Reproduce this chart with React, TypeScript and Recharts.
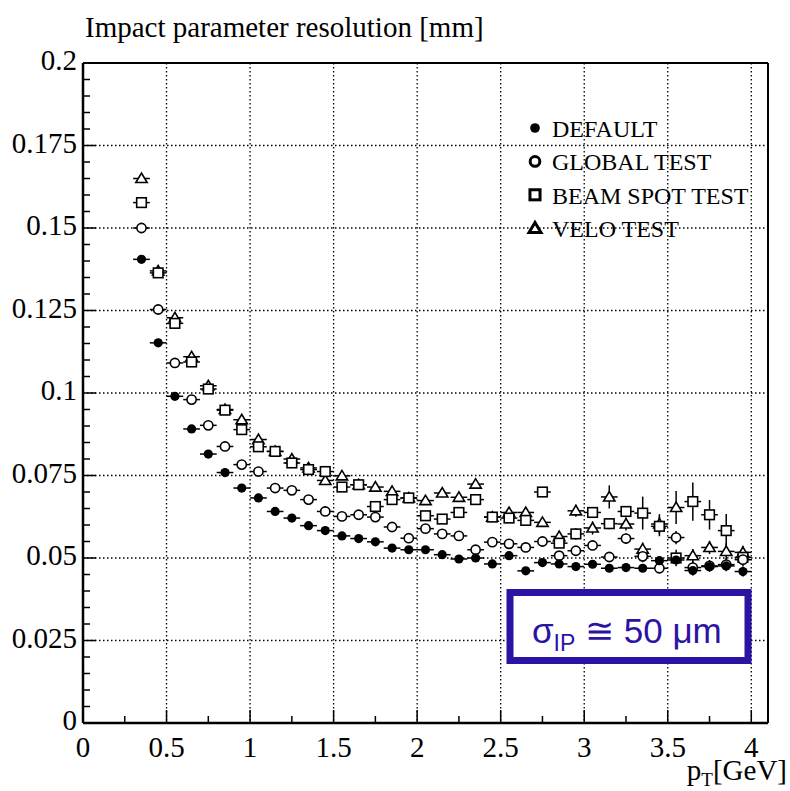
import React from "react";
import {
  ScatterChart,
  Scatter,
  XAxis,
  YAxis,
  CartesianGrid,
  ErrorBar,
  ReferenceLine,
} from "recharts";

// pT bin centres [GeV], bin half-width 0.05
const pt = [
  0.35, 0.45, 0.55, 0.65, 0.75, 0.85, 0.95, 1.05, 1.15, 1.25, 1.35, 1.45, 1.55,
  1.65, 1.75, 1.85, 1.95, 2.05, 2.15, 2.25, 2.35, 2.45, 2.55, 2.65, 2.75, 2.85,
  2.95, 3.05, 3.15, 3.25, 3.35, 3.45, 3.55, 3.65, 3.75, 3.85, 3.95,
];
const binHalf = 0.05;

const defaultRes = [
  0.1405, 0.1152, 0.099, 0.0891, 0.0815, 0.0759, 0.0712, 0.0682, 0.0641, 0.0621,
  0.0598, 0.0583, 0.0567, 0.0559, 0.0549, 0.053, 0.0525, 0.0525, 0.051, 0.0497,
  0.05, 0.0482, 0.0507, 0.0461, 0.0486, 0.0482, 0.0474, 0.0481, 0.0469, 0.0471,
  0.0469, 0.0492, 0.0494, 0.0462, 0.0474, 0.0476, 0.0459,
];
const defaultErr = [
  0.0003, 0.0003, 0.0003, 0.0003, 0.0003, 0.0003, 0.0003, 0.0003, 0.0003, 0.0003,
  0.0003, 0.0003, 0.0003, 0.0003, 0.0003, 0.0003, 0.0003, 0.0003, 0.0003, 0.0003,
  0.0004, 0.0004, 0.0004, 0.0004, 0.0004, 0.0004, 0.0005, 0.0006, 0.0007, 0.0008,
  0.0009, 0.001, 0.0012, 0.0015, 0.0012, 0.0013, 0.0015,
];

const globalRes = [
  0.15, 0.1253, 0.1091, 0.098, 0.0902, 0.0838, 0.0783, 0.0762, 0.0712, 0.0705,
  0.0677, 0.0641, 0.0626, 0.0631, 0.0624, 0.0594, 0.056, 0.0589, 0.0573, 0.0567,
  0.0525, 0.0548, 0.0543, 0.0532, 0.055, 0.0507, 0.0522, 0.0538, 0.0503, 0.0559,
  0.0505, 0.0469, 0.0562, 0.0471, 0.0476, 0.048, 0.0495,
];
const globalErr = [
  0.0004, 0.0004, 0.0004, 0.0004, 0.0004, 0.0004, 0.0004, 0.0004, 0.0004, 0.0004,
  0.0004, 0.0004, 0.0004, 0.0004, 0.0004, 0.0004, 0.0004, 0.0004, 0.0004, 0.0004,
  0.0004, 0.0004, 0.0006, 0.0007, 0.0008, 0.001, 0.0012, 0.0012, 0.0013, 0.0015,
  0.0018, 0.0015, 0.002, 0.002, 0.0018, 0.002, 0.002,
];

const beamRes = [
  0.1577, 0.1364, 0.1211, 0.1094, 0.1012, 0.0948, 0.0889, 0.0837, 0.0823, 0.0788,
  0.0768, 0.0762, 0.0715, 0.0722, 0.0656, 0.0677, 0.0682, 0.0628, 0.0618, 0.0638,
  0.0677, 0.0624, 0.0621, 0.0614, 0.07, 0.0545, 0.0573, 0.0638, 0.0604, 0.0641,
  0.0636, 0.0596, 0.05, 0.0671, 0.0631, 0.0583, 0.0502,
];
const beamErr = [
  0.0004, 0.0004, 0.0004, 0.0004, 0.0004, 0.0004, 0.0004, 0.0004, 0.0004, 0.0004,
  0.0004, 0.0004, 0.0004, 0.0004, 0.0004, 0.0004, 0.0004, 0.0006, 0.0006, 0.0008,
  0.0015, 0.001, 0.0012, 0.0012, 0.0015, 0.0015, 0.0018, 0.0013, 0.0017, 0.0013,
  0.005, 0.003, 0.0025, 0.0058, 0.0045, 0.005, 0.002,
];

const veloRes = [
  0.165, 0.137, 0.1228, 0.111, 0.1022, 0.095, 0.0919, 0.0859, 0.0823, 0.08,
  0.0773, 0.0735, 0.0749, 0.0722, 0.0715, 0.0702, 0.0682, 0.0674, 0.0697, 0.0684,
  0.0724, 0.0624, 0.0638, 0.0638, 0.0608, 0.0565, 0.0643, 0.0591, 0.0685, 0.0603,
  0.0527, 0.0603, 0.0653, 0.0507, 0.0532, 0.052, 0.0517,
];
const veloErr = [
  0.0004, 0.0004, 0.0004, 0.0004, 0.0004, 0.0004, 0.0004, 0.0004, 0.0004, 0.0004,
  0.0004, 0.0004, 0.0004, 0.0004, 0.0004, 0.0004, 0.0004, 0.0006, 0.0006, 0.0008,
  0.0012, 0.001, 0.001, 0.0012, 0.0012, 0.0015, 0.0018, 0.002, 0.0035, 0.002,
  0.002, 0.003, 0.005, 0.002, 0.002, 0.0025, 0.002,
];

const xMajor = [0, 0.5, 1, 1.5, 2, 2.5, 3, 3.5, 4];
const xLabels = ["0", "0.5", "1", "1.5", "2", "2.5", "3", "3.5", "4"];
const yMajor = [0, 0.025, 0.05, 0.075, 0.1, 0.125, 0.15, 0.175, 0.2];
const yLabels = ["0", "0.025", "0.05", "0.075", "0.1", "0.125", "0.15", "0.175", "0.2"];

const xTicks = Array.from({ length: 17 }, (_, i) => i * 0.25);
const yTicks = Array.from({ length: 41 }, (_, i) => Math.round(i * 5) / 1000);

const SERIF = '"Liberation Serif", "Times New Roman", serif';
const SANS = '"Liberation Sans", Arial, sans-serif';
const BLUE = "#2b14a3";

const toData = (vals: number[], errs: number[]) =>
  pt.map((x, i) => ({ x, y: vals[i], ex: binHalf, ey: errs[i] }));

type Kind = "dot" | "circle" | "square" | "triangle";

const series: { name: string; kind: Kind; data: any[] }[] = [
  { name: "VELO TEST", kind: "triangle", data: toData(veloRes, veloErr) },
  { name: "BEAM SPOT TEST", kind: "square", data: toData(beamRes, beamErr) },
  { name: "GLOBAL TEST", kind: "circle", data: toData(globalRes, globalErr) },
  { name: "DEFAULT", kind: "dot", data: toData(defaultRes, defaultErr) },
];
const legendOrder = ["DEFAULT", "GLOBAL TEST", "BEAM SPOT TEST", "VELO TEST"];

function Marker({ kind, cx, cy, s = 1, sw = 1.6 }: any) {
  if (cx == null || cy == null) return null;
  if (kind === "dot") return <circle cx={cx} cy={cy} r={4.6 * s} fill="#000" />;
  if (kind === "circle")
    return <circle cx={cx} cy={cy} r={4.6 * s} fill="#fff" stroke="#000" strokeWidth={sw} />;
  if (kind === "square")
    return (
      <rect x={cx - 4.8 * s} y={cy - 4.8 * s} width={9.6 * s} height={9.6 * s}
        fill="#fff" stroke="#000" strokeWidth={sw} />
    );
  const h = 5.4 * s;
  return (
    <polygon
      points={`${cx},${cy - h} ${cx - h * 1.05},${cy + h * 0.75} ${cx + h * 1.05},${cy + h * 0.75}`}
      fill="#fff" stroke="#000" strokeWidth={sw} strokeLinejoin="miter" />
  );
}

function isMajor(v: number, list: number[]) {
  return list.findIndex((m) => Math.abs(m - v) < 1e-6);
}

function XTick({ x, y, payload }: any) {
  const idx = isMajor(payload.value, xMajor);
  return (
    <g>
      <line x1={x} x2={x} y1={y} y2={y - (idx >= 0 ? 13 : 7)} stroke="#000" strokeWidth={1.5} />
      {idx >= 0 && (
        <text x={x} y={y + 34} textAnchor="middle" fontFamily={SERIF} fontSize={29} fill="#000">
          {xLabels[idx]}
        </text>
      )}
    </g>
  );
}

function YTick({ x, y, payload }: any) {
  const idx = isMajor(payload.value, yMajor);
  return (
    <g>
      <line x1={x} x2={x + (idx >= 0 ? 13 : 7)} y1={y} y2={y} stroke="#000" strokeWidth={1.5} />
      {idx >= 0 && (
        <text x={x - 6} y={y + 7} textAnchor="end" fontFamily={SERIF} fontSize={29} fill="#000">
          {yLabels[idx]}
        </text>
      )}
    </g>
  );
}

function LegendBox() {
  return (
    <g transform="translate(520,110)">
      {legendOrder.map((name, i) => {
        const s = series.find((d) => d.name === name)!;
        const cy = 18 + i * 33.4;
        return (
          <g key={name}>
            <Marker kind={s.kind} cx={15} cy={cy} s={1.05} sw={3} />
            <text x={32} y={cy + 9} fontFamily={SERIF} fontSize={24} fill="#000">
              {name}
            </text>
          </g>
        );
      })}
    </g>
  );
}

export default function App() {
  return (
    <div style={{ position: "absolute", left: 0, top: 0, width: 790, height: 791, background: "#fff" }}>
      <ScatterChart width={790} height={791} margin={{ top: 63, right: 22, bottom: 18, left: 0 }}>
        <CartesianGrid
          stroke="#000"
          strokeWidth={1.3}
          strokeDasharray="1.5 2.5"
          verticalValues={xMajor.slice(1)}
          horizontalValues={yMajor.slice(1)}
        />
        <XAxis
          type="number"
          dataKey="x"
          domain={[0, 4.1]}
          ticks={xTicks}
          interval={0}
          allowDataOverflow
          height={50}
          tickSize={0}
          tickMargin={0}
          tickLine={false}
          tick={<XTick />}
          axisLine={{ stroke: "#000", strokeWidth: 2.5 }}
        />
        <YAxis
          type="number"
          dataKey="y"
          domain={[0, 0.2]}
          ticks={yTicks}
          interval={0}
          allowDataOverflow
          width={83}
          tickSize={0}
          tickMargin={0}
          tickLine={false}
          tick={<YTick />}
          axisLine={{ stroke: "#000", strokeWidth: 2.5 }}
        />
        <ReferenceLine y={0.2} stroke="#000" strokeWidth={2} />
        <ReferenceLine x={4.1} stroke="#000" strokeWidth={2} />
        {series.map((s) => (
          <Scatter
            key={s.name}
            name={s.name}
            data={s.data}
            isAnimationActive={false}
            shape={(p: any) => <Marker kind={s.kind} cx={p.cx} cy={p.cy} />}
          >
            <ErrorBar dataKey="ex" direction="x" width={0} stroke="#000" strokeWidth={1.5} isAnimationActive={false} />
            <ErrorBar dataKey="ey" direction="y" width={0} stroke="#000" strokeWidth={1.5} isAnimationActive={false} />
          </Scatter>
        ))}
      </ScatterChart>
      <svg width={790} height={791} style={{ position: "absolute", left: 0, top: 0, pointerEvents: "none" }}>
        <LegendBox />
        <text x={85} y={37} fontFamily={SERIF} fontSize={29} fill="#000">
          Impact parameter resolution [mm]
        </text>
        <text x={787} y={780} textAnchor="end" fontFamily={SERIF} fontSize={29} fill="#000">
          p<tspan fontSize={19} dy={6}>T</tspan>
          <tspan dy={-6}>[GeV]</tspan>
        </text>
        <rect x={510} y={592.5} width={238} height={68} fill="#fff" stroke={BLUE} strokeWidth={7} />
        <text x={532} y={643} fontFamily={SANS} fontSize={35} fill={BLUE}>
          σ<tspan fontSize={23} dy={8}>IP</tspan>
          <tspan dy={-8}> ≅ 50 μm</tspan>
        </text>
      </svg>
    </div>
  );
}
